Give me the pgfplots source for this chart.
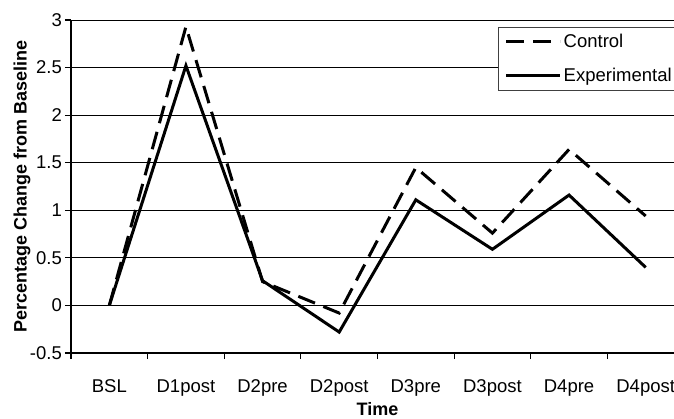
\documentclass[border=0pt]{standalone}
\usepackage{fontspec}
\setmainfont{Liberation Sans}
\usepackage{pgfplots}
\pgfplotsset{compat=1.18}
\begin{document}
\begin{tikzpicture}
\useasboundingbox (-71pt,-65pt) rectangle (603pt,353pt);
\clip (-71pt,-65pt) rectangle (603pt,353pt);
\begin{axis}[at={(0pt,0pt)}, anchor=south west, scale only axis,
  width=613pt, height=333pt,
  xmin=-0.5, xmax=7.5, ymin=-0.5, ymax=3,
  axis x line=bottom, axis y line=left,
  axis line style={-, line width=1.5pt, black},
  tick align=outside,
  ytick={-0.5,0,0.5,1,1.5,2,2.5,3},
  yticklabels={-0.5,0,0.5,1,1.5,2,2.5,3},
  ymajorgrids, grid style={black, line width=0.9pt},
  xtick={0,...,7},
  xticklabels={BSL,D1post,D2pre,D2post,D3pre,D3post,D4pre,D4post},
  minor xtick={-0.5,0.5,...,7.5},
  xminorgrids=false,
  major tick length=6pt, minor tick length=6pt,
  major x tick style={draw=none},
  every tick/.style={black, line width=1.2pt},
  minor tick style={black, line width=1.2pt},
  tick label style={font=\fontsize{18.5}{22}\selectfont},
  xticklabel style={anchor=base, yshift=-33pt},
  yticklabel style={anchor=east, inner sep=0pt, xshift=-3pt},
  xlabel={Time}, ylabel={Percentage Change from Baseline},
  label style={font=\bfseries\fontsize{18}{21}\selectfont},
  xlabel style={at={(axis description cs:0.5,-0.168)}, anchor=center},
  ylabel style={at={(axis description cs:-0.08,0.5)}, anchor=center},
  legend style={at={(axis description cs:0.697,0.979)}, anchor=north west,
    draw=black!75, line width=0.9pt, font=\fontsize{18.5}{22}\selectfont,
    row sep=15pt, inner ysep=5pt, inner xsep=6pt},
  legend cell align=left,
  legend image code/.code={\draw[#1] (0pt,0pt) -- (54pt,0pt);},
]
\addplot[black, line width=3pt, line join=miter, dash pattern=on 18pt off 9pt]
  coordinates {(0,0) (1,2.93) (2,0.25) (3,-0.08) (4,1.45) (5,0.76) (6,1.64) (7,0.94)};
\addlegendentry{Control}
\addplot[black, line width=3pt, line join=miter]
  coordinates {(0,0) (1,2.52) (2,0.26) (3,-0.28) (4,1.11) (5,0.59) (6,1.16) (7,0.40)};
\addlegendentry{Experimental}
\end{axis}
\end{tikzpicture}
\end{document}
